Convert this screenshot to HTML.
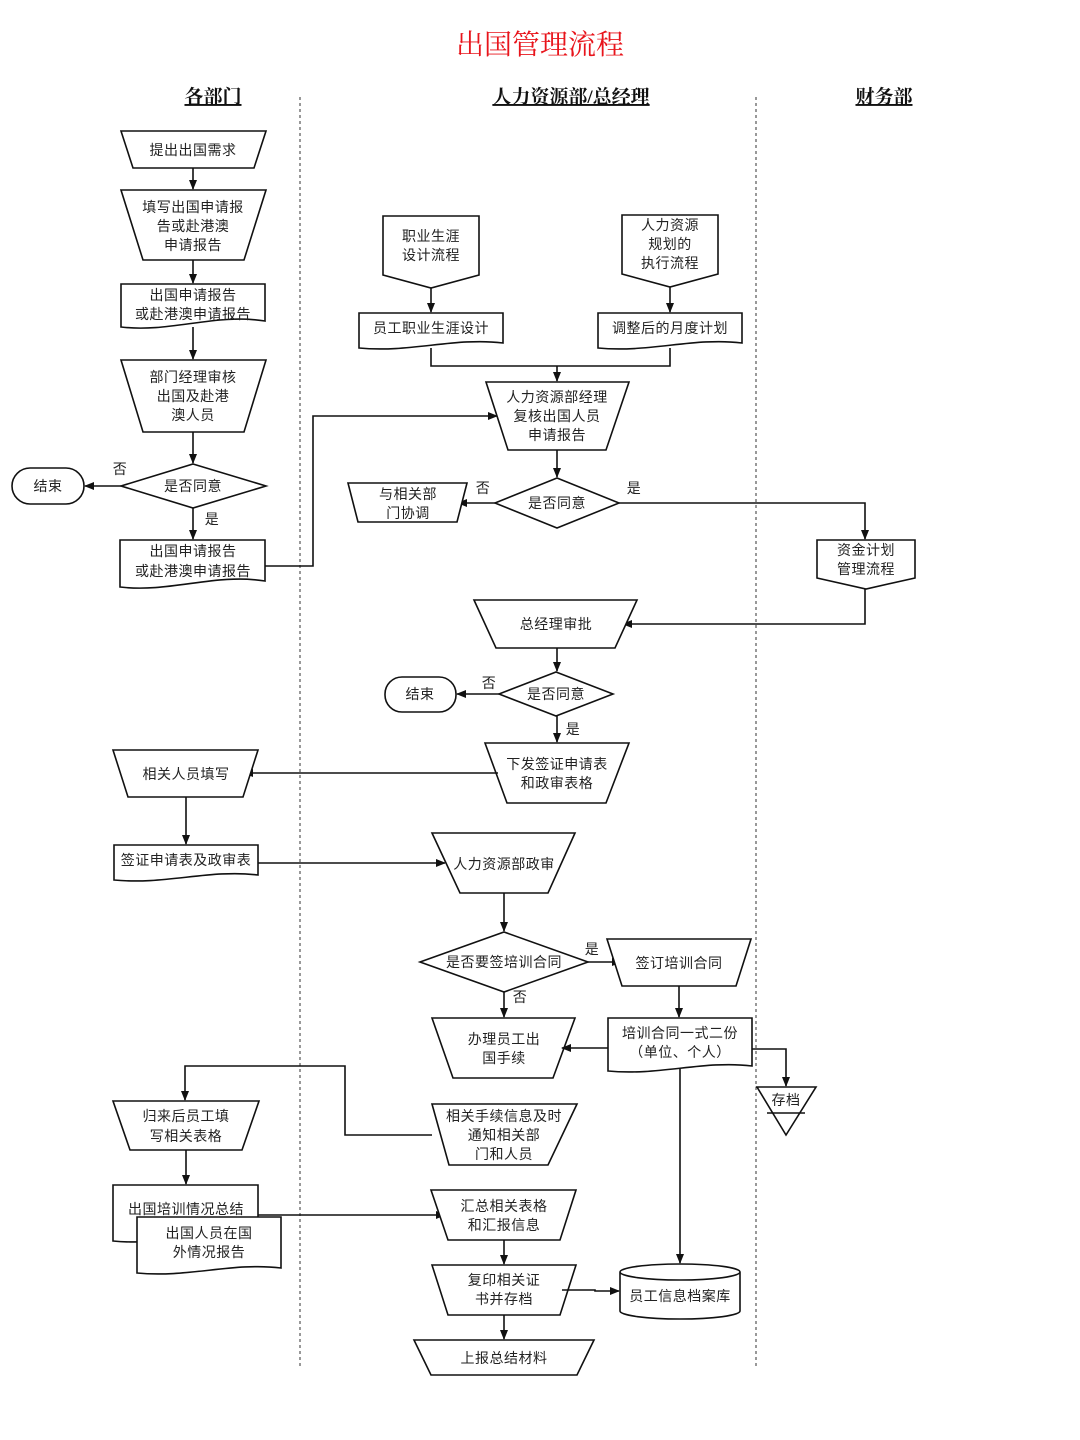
<!DOCTYPE html>
<html><head><meta charset="utf-8"><style>
html,body{margin:0;padding:0;background:#fff;}
svg{display:block;}
text{font-family:"Liberation Sans","Noto Sans CJK SC",sans-serif;font-size:14px;fill:#222;text-anchor:middle;letter-spacing:0.5px;}
.s{fill:#fff;stroke:#111;stroke-width:1.6;}
.l{fill:none;stroke:#111;stroke-width:1.6;}
.h{font-family:"Liberation Serif","Noto Serif CJK SC",serif;font-size:19px;font-weight:bold;fill:#111;text-decoration:underline;letter-spacing:0;}
</style></head><body>
<svg width="1080" height="1440" viewBox="0 0 1080 1440" xmlns="http://www.w3.org/2000/svg">
<defs><marker id="a" markerWidth="10" markerHeight="10" refX="9" refY="5" orient="auto" markerUnits="userSpaceOnUse"><path d="M0,1 L10,5 L0,9 Z" fill="#111"/></marker></defs>

<text x="540" y="54" style="font-family:'Liberation Serif','Noto Serif CJK SC',serif;font-size:28px;fill:#e8141b;letter-spacing:0">出国管理流程</text>
<text class="h" x="213" y="103">各部门</text>
<text class="h" x="571" y="103">人力资源部/总经理</text>
<text class="h" x="884" y="103">财务部</text>
<line x1="300" y1="97" x2="300" y2="1367" stroke="#333" stroke-width="1" stroke-dasharray="3,3"/>
<line x1="756" y1="97" x2="756" y2="1367" stroke="#333" stroke-width="1" stroke-dasharray="3,3"/>

<!-- left column -->
<polygon class="s" points="121,131 266,131 254,168 133,168"/>
<text x="193" y="155">提出出国需求</text>
<line class="l" x1="193" y1="168" x2="193" y2="189" marker-end="url(#a)"/>
<polygon class="s" points="121,190 266,190 244,260 143,260"/>
<text x="193" y="212">填写出国申请报</text><text x="193" y="231">告或赴港澳</text><text x="193" y="250">申请报告</text>
<line class="l" x1="193" y1="260" x2="193" y2="283" marker-end="url(#a)"/>
<path class="s" d="M121,284 H265 V321 C215,313 170,333 121,327 Z"/>
<text x="193" y="300">出国申请报告</text><text x="193" y="319">或赴港澳申请报告</text>
<line class="l" x1="193" y1="327" x2="193" y2="359" marker-end="url(#a)"/>
<polygon class="s" points="121,360 266,360 244,432 143,432"/>
<text x="193" y="382">部门经理审核</text><text x="193" y="401">出国及赴港</text><text x="193" y="420">澳人员</text>
<line class="l" x1="193" y1="432" x2="193" y2="463" marker-end="url(#a)"/>
<polygon class="s" points="193,464 266,486 193,508 121,486"/>
<text x="193" y="491">是否同意</text>
<line class="l" x1="121" y1="486" x2="85" y2="486" marker-end="url(#a)"/>
<text x="120" y="474">否</text>
<rect class="s" x="12" y="468" width="72" height="36" rx="18"/>
<text x="48" y="491">结束</text>
<line class="l" x1="193" y1="508" x2="193" y2="539" marker-end="url(#a)"/>
<text x="212" y="524">是</text>
<path class="s" d="M120,540 H265 V581 C215,573 170,593 120,587 Z"/>
<text x="193" y="556">出国申请报告</text><text x="193" y="576">或赴港澳申请报告</text>
<polyline class="l" points="265,566 313,566 313,416 497,416" marker-end="url(#a)"/>

<!-- middle top -->
<polygon class="s" points="383,216 479,216 479,275 431,288 383,275"/>
<text x="431" y="241">职业生涯</text><text x="431" y="260">设计流程</text>
<line class="l" x1="431" y1="288" x2="431" y2="312" marker-end="url(#a)"/>
<polygon class="s" points="622,215 718,215 718,274 670,287 622,274"/>
<text x="670" y="230">人力资源</text><text x="670" y="249">规划的</text><text x="670" y="268">执行流程</text>
<line class="l" x1="670" y1="287" x2="670" y2="312" marker-end="url(#a)"/>
<path class="s" d="M359,313 H503 V343 C455,337 410,353 359,348 Z"/>
<text x="431" y="333">员工职业生涯设计</text>
<path class="s" d="M598,313 H742 V343 C694,337 649,353 598,348 Z"/>
<text x="670" y="333">调整后的月度计划</text>
<polyline class="l" points="431,348 431,366 670,366 670,348"/>
<line class="l" x1="557" y1="366" x2="557" y2="381" marker-end="url(#a)"/>
<polygon class="s" points="486,382 629,382 606,450 508,450"/>
<text x="557" y="402">人力资源部经理</text><text x="557" y="421">复核出国人员</text><text x="557" y="440">申请报告</text>
<line class="l" x1="557" y1="450" x2="557" y2="477" marker-end="url(#a)"/>
<polygon class="s" points="557,478 619,503 557,528 495,503"/>
<text x="557" y="508">是否同意</text>
<line class="l" x1="495" y1="503" x2="458" y2="503" marker-end="url(#a)"/>
<text x="483" y="493">否</text>
<polygon class="s" points="348,483 467,483 457,522 358,522"/>
<text x="408" y="499">与相关部</text><text x="408" y="518">门协调</text>
<polyline class="l" points="619,503 865,503 865,539" marker-end="url(#a)"/>
<text x="634" y="493">是</text>
<polygon class="s" points="817,540 915,540 915,578 866,589 817,578"/>
<text x="866" y="555">资金计划</text><text x="866" y="574">管理流程</text>
<polyline class="l" points="865,589 865,624 623,624" marker-end="url(#a)"/>
<polygon class="s" points="474,600 637,600 615,648 496,648"/>
<text x="556" y="629">总经理审批</text>
<line class="l" x1="557" y1="648" x2="557" y2="671" marker-end="url(#a)"/>
<polygon class="s" points="556,672 613,694 556,716 499,694"/>
<text x="556" y="699">是否同意</text>
<line class="l" x1="499" y1="694" x2="457" y2="694" marker-end="url(#a)"/>
<text x="489" y="688">否</text>
<rect class="s" x="385" y="677" width="71" height="35" rx="17"/>
<text x="420" y="699">结束</text>
<line class="l" x1="557" y1="716" x2="557" y2="742" marker-end="url(#a)"/>
<text x="573" y="734">是</text>
<polygon class="s" points="485,743 629,743 606,803 507,803"/>
<text x="557" y="769">下发签证申请表</text><text x="557" y="788">和政审表格</text>
<line class="l" x1="498" y1="773" x2="244" y2="773" marker-end="url(#a)"/>
<polygon class="s" points="113,750 258,750 243,797 128,797"/>
<text x="186" y="779">相关人员填写</text>
<line class="l" x1="186" y1="797" x2="186" y2="844" marker-end="url(#a)"/>
<path class="s" d="M114,845 H258 V875 C210,869 165,885 114,880 Z"/>
<text x="186" y="865">签证申请表及政审表</text>
<line class="l" x1="258" y1="863" x2="445" y2="863" marker-end="url(#a)"/>
<polygon class="s" points="432,833 575,833 548,893 460,893"/>
<text x="504" y="869">人力资源部政审</text>
<line class="l" x1="504" y1="893" x2="504" y2="931" marker-end="url(#a)"/>
<polygon class="s" points="504,932 588,962 504,992 420,962"/>
<text x="504" y="967">是否要签培训合同</text>
<line class="l" x1="588" y1="962" x2="621" y2="962" marker-end="url(#a)"/>
<text x="592" y="954">是</text>
<polygon class="s" points="607,939 751,939 736,986 622,986"/>
<text x="679" y="968">签订培训合同</text>
<line class="l" x1="679" y1="986" x2="679" y2="1017" marker-end="url(#a)"/>
<path class="s" d="M608,1018 H752 V1066 C704,1060 659,1076 608,1071 Z"/>
<text x="680" y="1038">培训合同一式二份</text><text x="680" y="1057">（单位、个人）</text>
<line class="l" x1="504" y1="992" x2="504" y2="1017" marker-end="url(#a)"/>
<text x="520" y="1002">否</text>
<polygon class="s" points="432,1018 575,1018 553,1078 453,1078"/>
<text x="504" y="1044">办理员工出</text><text x="504" y="1063">国手续</text>
<line class="l" x1="608" y1="1048" x2="562" y2="1048" marker-end="url(#a)"/>
<polyline class="l" points="752,1049 786,1049 786,1086" marker-end="url(#a)"/>
<polygon class="s" points="757,1087 816,1087 786,1135"/>
<line class="l" x1="767" y1="1113" x2="805" y2="1113"/>
<text x="786" y="1105">存档</text>
<line class="l" x1="680" y1="1069" x2="680" y2="1263" marker-end="url(#a)"/>
<path class="s" d="M620,1272 V1311 A60,8 0 0 0 740,1311 V1272 A60,8 0 0 0 620,1272 A60,8 0 0 0 740,1272"/>
<text x="680" y="1301">员工信息档案库</text>
<polygon class="s" points="432,1104 577,1104 548,1165 449,1165"/>
<text x="504" y="1121">相关手续信息及时</text><text x="504" y="1140">通知相关部</text><text x="504" y="1159">门和人员</text>
<polyline class="l" points="432,1135 345,1135 345,1066 185,1066 185,1100" marker-end="url(#a)"/>
<polygon class="s" points="113,1101 259,1101 242,1150 130,1150"/>
<text x="186" y="1121">归来后员工填</text><text x="186" y="1141">写相关表格</text>
<line class="l" x1="186" y1="1150" x2="186" y2="1184" marker-end="url(#a)"/>
<path class="s" d="M113,1185 H258 V1236 C210,1230 165,1246 113,1241 Z"/>
<text x="186" y="1214">出国培训情况总结</text>
<path class="s" d="M137,1217 H281 V1268 C233,1262 188,1278 137,1273 Z"/>
<text x="209" y="1238">出国人员在国</text><text x="209" y="1257">外情况报告</text>
<line class="l" x1="258" y1="1215" x2="445" y2="1215" marker-end="url(#a)"/>
<polygon class="s" points="431,1190 576,1190 560,1240 448,1240"/>
<text x="504" y="1211">汇总相关表格</text><text x="504" y="1230">和汇报信息</text>
<line class="l" x1="504" y1="1240" x2="504" y2="1264" marker-end="url(#a)"/>
<polygon class="s" points="432,1265 576,1265 560,1315 448,1315"/>
<text x="504" y="1285">复印相关证</text><text x="504" y="1304">书并存档</text>
<polyline class="l" points="562,1290 595,1290 595,1291 619,1291" marker-end="url(#a)"/>
<line class="l" x1="504" y1="1315" x2="504" y2="1339" marker-end="url(#a)"/>
<polygon class="s" points="414,1340 594,1340 577,1375 431,1375"/>
<text x="504" y="1363">上报总结材料</text>
</svg>
</body></html>
